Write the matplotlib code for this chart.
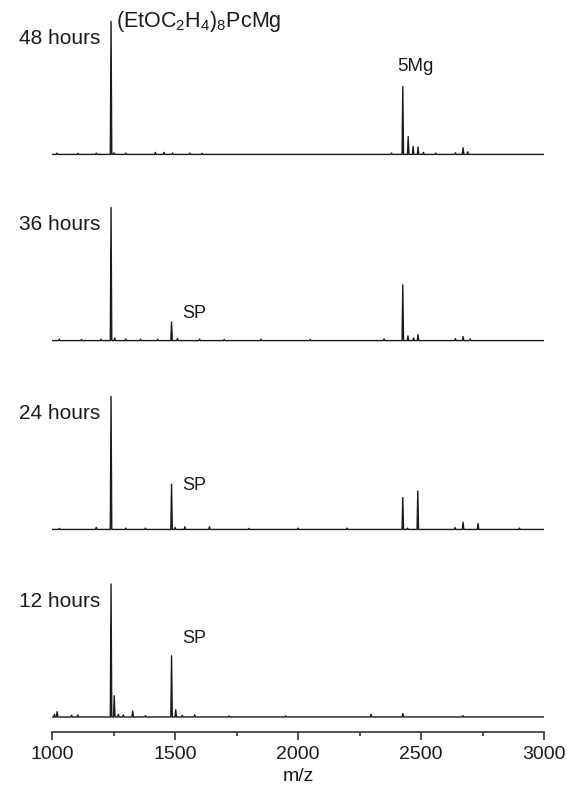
import numpy as np
import matplotlib
matplotlib.use('Agg')
import matplotlib.pyplot as plt

plt.rcParams['font.family'] = ['Liberation Sans', 'DejaVu Sans']
plt.rcParams['mathtext.fontset'] = 'custom'
plt.rcParams['mathtext.rm'] = 'Liberation Sans'
plt.rcParams['mathtext.it'] = 'Liberation Sans'

# stick spectra: peak m/z and relative intensity (main peak = 1)
labels = ['48 hours', '36 hours', '24 hours', '12 hours']

mz_48 = [1020, 1105, 1180, 1240, 1252, 1300, 1420, 1455, 1490, 1560, 1610,
         2380, 2426, 2448, 2468, 2488, 2510, 2560, 2640, 2671, 2690]
int_48 = [0.01, 0.008, 0.01, 1.0, 0.012, 0.01, 0.015, 0.015, 0.01, 0.01, 0.008,
          0.01, 0.51, 0.135, 0.06, 0.055, 0.015, 0.01, 0.012, 0.05, 0.02]

mz_36 = [1030, 1120, 1200, 1240, 1255, 1300, 1360, 1430, 1486, 1510, 1600,
         1700, 1850, 2050, 2350, 2426, 2447, 2470, 2488, 2640, 2671, 2700]
int_36 = [0.01, 0.008, 0.01, 1.0, 0.02, 0.012, 0.01, 0.01, 0.14, 0.015, 0.01,
          0.008, 0.01, 0.008, 0.012, 0.42, 0.035, 0.02, 0.045, 0.015, 0.03, 0.012]

mz_24 = [1030, 1180, 1240, 1300, 1380, 1486, 1500, 1540, 1640, 1800, 2000,
         2200, 2426, 2445, 2487, 2638, 2671, 2732, 2900]
int_24 = [0.008, 0.015, 1.0, 0.01, 0.01, 0.34, 0.015, 0.02, 0.02, 0.008, 0.01,
          0.01, 0.24, 0.01, 0.29, 0.015, 0.055, 0.045, 0.01]

mz_12 = [1010, 1021, 1080, 1105, 1240, 1253, 1270, 1290, 1328, 1380, 1486,
         1503, 1530, 1580, 1720, 1950, 2297, 2426, 2670]
int_12 = [0.02, 0.04, 0.012, 0.015, 1.0, 0.16, 0.02, 0.015, 0.045, 0.01, 0.46,
          0.055, 0.012, 0.015, 0.008, 0.008, 0.02, 0.025, 0.01]

spectra = [(mz_48, int_48), (mz_36, int_36), (mz_24, int_24), (mz_12, int_12)]
offsets = [4.23, 2.83, 1.41, 0.0]
sp_y = [None, 0.17, 0.30, 0.555]


def stick_line(mz, inten, w=3.0):
    xs = [1000.0]
    ys = [0.0]
    for m, h in sorted(zip(mz, inten)):
        xs += [m - w, m, m + w]
        ys += [0.0, h, 0.0]
    xs.append(3000.0)
    ys.append(0.0)
    return np.array(xs), np.array(ys)


fig = plt.figure(figsize=(5.68, 7.91), dpi=100)
ax = fig.add_axes([52 / 568, 59 / 791, 492 / 568, 732 / 791])

for (mz, inten), off, lab, spy in zip(spectra, offsets, labels, sp_y):
    x, y = stick_line(mz, inten)
    ax.plot(x, y + off, color='#1a1a1a', linewidth=1.0)
    ax.text(1195, off + 0.83, lab, ha='right', va='baseline', fontsize=15, color='#1a1a1a')
    if spy is not None:
        ax.text(1528, off + spy, 'SP', ha='left', va='baseline', fontsize=13, color='#1a1a1a')

ax.text(1262, offsets[0] + 0.955, r'(EtOC$_2$H$_4$)$_8$PcMg', ha='left', va='baseline',
        fontsize=15.5, color='#1a1a1a')
ax.text(2402, offsets[0] + 0.63, '5Mg', ha='left', va='baseline', fontsize=13.5, color='#1a1a1a')

ax.set_xlim(1000, 3000)
ax.set_ylim(-0.113, 5.391)
for s in ['top', 'left', 'right']:
    ax.spines[s].set_visible(False)
ax.spines['bottom'].set_linewidth(1.2)
ax.spines['bottom'].set_color('#333333')
ax.set_yticks([])
ax.set_xticks([1000, 1500, 2000, 2500, 3000])
ax.set_xticks([1250, 1750, 2250, 2750], minor=True)
ax.tick_params(axis='x', which='major', direction='out', length=6, width=1.2,
               colors='#333333', labelsize=14, pad=4, labelcolor='#1a1a1a')
ax.tick_params(axis='x', which='minor', direction='out', length=3.2, width=1.2, colors='#333333')
ax.set_xlabel('m/z', fontsize=14, color='#1a1a1a', labelpad=4)

fig.savefig('out.png', dpi=100)
